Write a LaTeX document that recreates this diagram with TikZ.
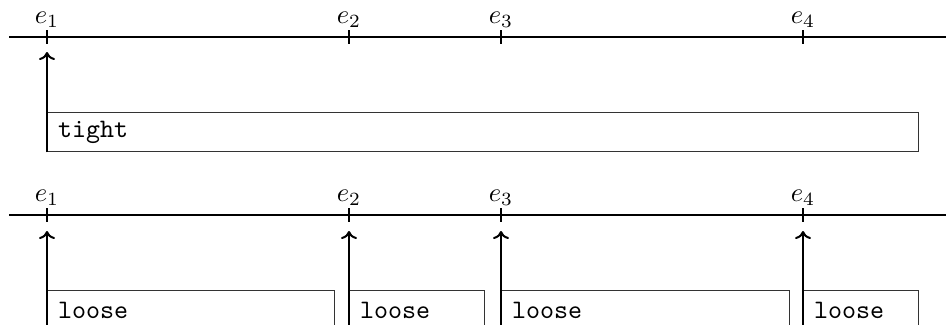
\documentclass[tikz,border=0pt]{standalone}
\usetikzlibrary{arrows.meta}
\begin{document}
\begin{tikzpicture}[x=0.375pt,y=-0.375pt,
  axis/.style={line width=1.1pt},
  tick/.style={line width=0.8pt},
  lab/.style={inner sep=0pt},
  arr/.style={line width=0.75pt,-{To[length=3pt,width=6pt]}},
  box/.style={draw=black!80,line width=0.5pt,anchor=north west,minimum height=14.6pt,
    inner xsep=3.9pt,inner ysep=0pt,align=left,font=\ttfamily}]
\useasboundingbox (0,0) rectangle (946,324);
\clip (0,0) rectangle (946,324);
% top axis
\coordinate (A0) at (9,37);
\coordinate (A1) at (946,37);
\draw[axis] (A0) -- (A1);
\foreach \x/\i in {47/1,349/2,501/3,803/4}{
  \coordinate (t\i) at (\x,37);
  \draw[tick] ([yshift=2.6pt]t\i) -- ([yshift=-2.6pt]t\i);
  \node[lab] (l\i) at (\x,20) {$e_\i$};
}
\node[box,text width=318.8pt] (tight) at (47,112) {tight};
\coordinate (ta) at (47,52);
\draw[arr] (tight.south west) -- (ta);
% bottom axis
\coordinate (B0) at (9,215);
\coordinate (B1) at (946,215);
\draw[axis] (B0) -- (B1);
\foreach \x/\i in {47/1,349/2,501/3,803/4}{
  \coordinate (s\i) at (\x,215);
  \draw[tick] ([yshift=2.6pt]s\i) -- ([yshift=-2.6pt]s\i);
  \node[lab] (m\i) at (\x,198) {$e_\i$};
}
\node[box,text width=99.8pt] (b1) at (47,290) {loose};
\node[box,text width=42.8pt] (b2) at (349,290) {loose};
\node[box,text width=100.2pt] (b3) at (501,290) {loose};
\node[box,text width=35.3pt] (b4) at (803,290) {loose};
\foreach \x/\i in {47/1,349/2,501/3,803/4}{
  \coordinate (u\i) at (\x,231);
  \draw[arr] (b\i.south west) -- (u\i);
}
\end{tikzpicture}
\end{document}
